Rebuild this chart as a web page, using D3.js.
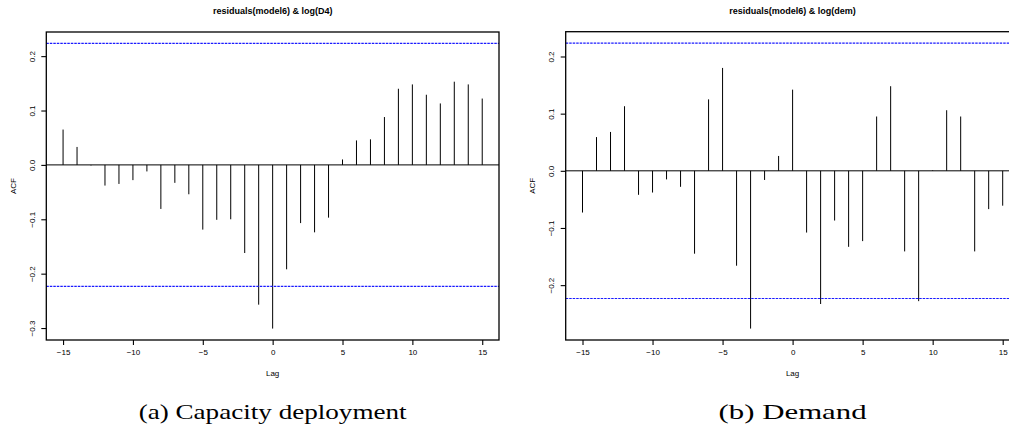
<!DOCTYPE html>
<html>
<head>
<meta charset="utf-8">
<script src="https://cdn.jsdelivr.net/npm/d3@7"></script>
<style>
  html, body { margin: 0; padding: 0; background: #fff; }
  svg { display: block; }
</style>
</head>
<body>
<svg id="chart" width="1009" height="432"></svg>
<script>
// ---- data ----
const lags = d3.range(-15, 16);
const acfCapacity = [
  0.065, 0.033, -0.001, -0.038, -0.035, -0.028, -0.012, -0.081, -0.033, -0.054,
  -0.119, -0.101, -0.100, -0.162, -0.257, -0.301, -0.192, -0.107, -0.124, -0.097,
  0.010, 0.045, 0.047, 0.088, 0.140, 0.148, 0.129, 0.113, 0.153, 0.148, 0.122
];
const acfDemand = [
  -0.073, 0.059, 0.068, 0.113, -0.042, -0.038, -0.015, -0.028, -0.145, 0.125,
  0.180, -0.166, -0.276, -0.016, 0.026, 0.142, -0.108, -0.233, -0.087, -0.133,
  -0.123, 0.095, 0.148, -0.141, -0.228, 0.001, 0.106, 0.095, -0.141, -0.067, -0.061
];
const ciLimit = 0.2234;
const titles = ["residuals(model6) & log(D4)", "residuals(model6) & log(dem)"];
const captions = ["(a) Capacity deployment", "(b) Demand"];
const xTicks = [-15, -10, -5, 0, 5, 10, 15];
const yTicksCapacity = [0.2, 0.1, 0.0, -0.1, -0.2, -0.3];
const yTicksDemand = [0.2, 0.1, 0.0, -0.1, -0.2];

const svg = d3.select("#chart");

const panels = [
  { values: acfCapacity, yTicks: yTicksCapacity, title: titles[0], caption: captions[0],
    left: 46.3, right: 499, top: 32, bottom: 340, capLen: 268 },
  { values: acfDemand, yTicks: yTicksDemand, title: titles[1], caption: captions[1],
    left: 565.7, right: 1019.5, top: 31.7, bottom: 340, capLen: 148 }
];

function ext4(lo, hi) { const d = (hi - lo) * 0.04; return [lo - d, hi + d]; }
const fmt = v => (v < 0 ? "\u2212" : "") + Math.abs(v).toFixed(1);
const fmtX = v => (v < 0 ? "\u2212" : "") + Math.abs(v);
const SANS = "Liberation Sans, Arial, Helvetica, sans-serif";

panels.forEach(p => {
  const x = d3.scaleLinear().domain(ext4(d3.min(lags), d3.max(lags))).range([p.left, p.right]);
  const lo = Math.min(d3.min(p.values), -ciLimit), hi = Math.max(d3.max(p.values), ciLimit);
  const y = d3.scaleLinear().domain(ext4(lo, hi)).range([p.bottom, p.top]);
  const cx = x(0);

  const g = svg.append("g");

  // spikes
  g.selectAll("line.spike").data(lags).enter().append("line")
    .attr("class", "spike")
    .attr("x1", d => x(d)).attr("x2", d => x(d))
    .attr("y1", y(0)).attr("y2", (d, i) => y(p.values[i]))
    .attr("stroke", "#000").attr("stroke-width", 1);

  // zero line
  g.append("line").attr("x1", p.left).attr("x2", p.right)
    .attr("y1", y(0)).attr("y2", y(0)).attr("stroke", "#000").attr("stroke-width", 1);

  // confidence lines
  [ciLimit, -ciLimit].forEach(c => {
    g.append("line").attr("x1", p.left).attr("x2", p.right)
      .attr("y1", y(c)).attr("y2", y(c))
      .attr("stroke", "#1a1aff").attr("stroke-width", 1.2)
      .attr("stroke-dasharray", "2.5,1");
  });

  // box
  g.append("rect").attr("x", p.left).attr("y", p.top)
    .attr("width", p.right - p.left).attr("height", p.bottom - p.top)
    .attr("fill", "none").attr("stroke", "#000").attr("stroke-width", 1.3);

  // x axis
  const xa = g.append("g").attr("transform", `translate(0,${p.bottom})`)
    .call(d3.axisBottom(x).tickValues(xTicks).tickSize(5).tickPadding(4).tickFormat(fmtX));
  xa.select(".domain").remove();
  xa.selectAll("line").attr("stroke-width", 1.1);
  xa.selectAll("text").attr("font-family", SANS)
    .attr("font-size", 8).attr("fill", "#000");

  // y axis
  const ya = g.append("g").attr("transform", `translate(${p.left},0)`)
    .call(d3.axisLeft(y).tickValues(p.yTicks).tickSize(5).tickFormat(fmt));
  ya.select(".domain").remove();
  ya.selectAll("line").attr("stroke-width", 1.1);
  ya.selectAll("text")
    .attr("font-family", SANS)
    .attr("font-size", 8).attr("fill", "#000")
    .attr("x", 0).attr("dy", null)
    .attr("text-anchor", "middle")
    .attr("dominant-baseline", "central")
    .attr("transform", `translate(-14,0) rotate(-90)`);

  // title
  g.append("text").attr("x", cx).attr("y", 14)
    .attr("text-anchor", "middle")
    .attr("font-family", SANS)
    .attr("font-weight", "bold").attr("font-size", 9).text(p.title);

  // axis labels
  g.append("text").attr("x", cx).attr("y", 376)
    .attr("text-anchor", "middle")
    .attr("font-family", SANS)
    .attr("font-size", 8).text("Lag");
  g.append("text")
    .attr("transform", `translate(${p.left - 33},${(p.top + p.bottom) / 2}) rotate(-90)`)
    .attr("text-anchor", "middle").attr("dominant-baseline", "central")
    .attr("font-family", SANS)
    .attr("font-size", 8).text("ACF");

  // caption
  g.append("text").attr("x", cx).attr("y", 419)
    .attr("text-anchor", "middle")
    .attr("font-family", "Liberation Serif, DejaVu Serif, serif")
    .attr("font-size", 21)
    .attr("textLength", p.capLen).attr("lengthAdjust", "spacingAndGlyphs")
    .text(p.caption);
});
</script>
</body>
</html>
